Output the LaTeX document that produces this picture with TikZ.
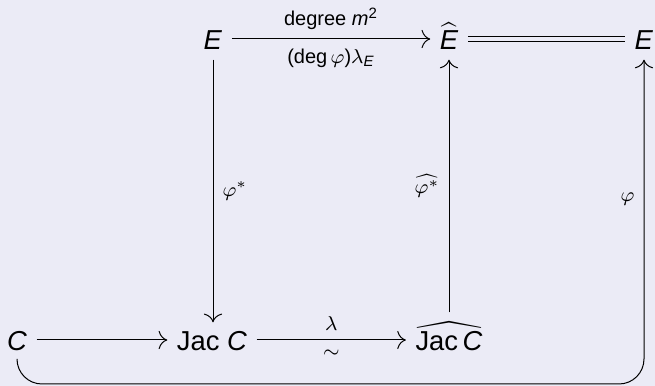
\documentclass[tikz,border=0pt,11pt]{standalone}
\usepackage{amsmath, amssymb}
\usepackage{fontspec}
\setmainfont{Liberation Sans}
\usepackage{tikz}
\usetikzlibrary{arrows.meta, calc, positioning}

\definecolor{bgcol}{RGB}{235,235,246}

\begin{document}
\begin{tikzpicture}[x=0.4pt, y=-0.4pt,
    obj/.style={anchor=base},
    lab/.style={font=\scriptsize},
    map/.style={-{To[scale=1.4]}}]
  % Background
  \fill[bgcol] (0,0) rectangle (655,386);
  \useasboundingbox (0,0) rectangle (655,386);

  % Top row
  \node[obj] (E)  at (213,50) {\textit{E}};
  \node[obj] (hE) at (449,50) {$\widehat{\text{\itshape E}}$};
  \node[obj] (Er) at (644,50) {\textit{E}};

  % Bottom row
  \node[obj] (C)    at (17,351)  {\textit{C}};
  \node[obj] (Jac)  at (212,351) {Jac \textit{C}};
  \node[obj] (hJac) at (449,351) {$\widehat{\text{Jac\,\itshape C}}$};

  % Horizontal maps
  \draw[map] ([yshift=4.4pt]E.base east) -- ([yshift=4.4pt]hE.base west)
    node[lab, midway, above] {degree $\text{\itshape m}^{\text{2}}$}
    node[lab, midway, below] {(deg\,$\varphi$)$\lambda_{\text{\itshape E}}$};
  \draw[double=bgcol, double distance=1.8pt]
    ([yshift=4.4pt]hE.base east) -- ([yshift=4.4pt]Er.base west);
  \draw[map] ([yshift=4.4pt]C.base east) -- ([yshift=4.4pt]Jac.base west);
  \draw[map] ([yshift=4.4pt]Jac.base east) -- ([yshift=4.4pt]hJac.base west)
    node[lab, midway, above] {$\lambda$}
    node[lab, midway, below] {$\sim$};

  % Vertical maps
  \draw[map] (E.south) -- (E.south |- Jac.north)
    node[lab, midway, right] {$\varphi^*$};
  \draw[map] (hJac.north) -- (hJac.north |- hE.south)
    node[lab, midway, left] {$\widehat{\varphi^*}$};

  % Loop from C round to E
  \coordinate (low) at (0,384);
  \draw[map, rounded corners=10pt] (C.south) -- (C.south |- low) -- (Er.south |- low)
    -- (Er.south) node[lab, pos=0.57, left] {$\varphi$};
\end{tikzpicture}
\end{document}
